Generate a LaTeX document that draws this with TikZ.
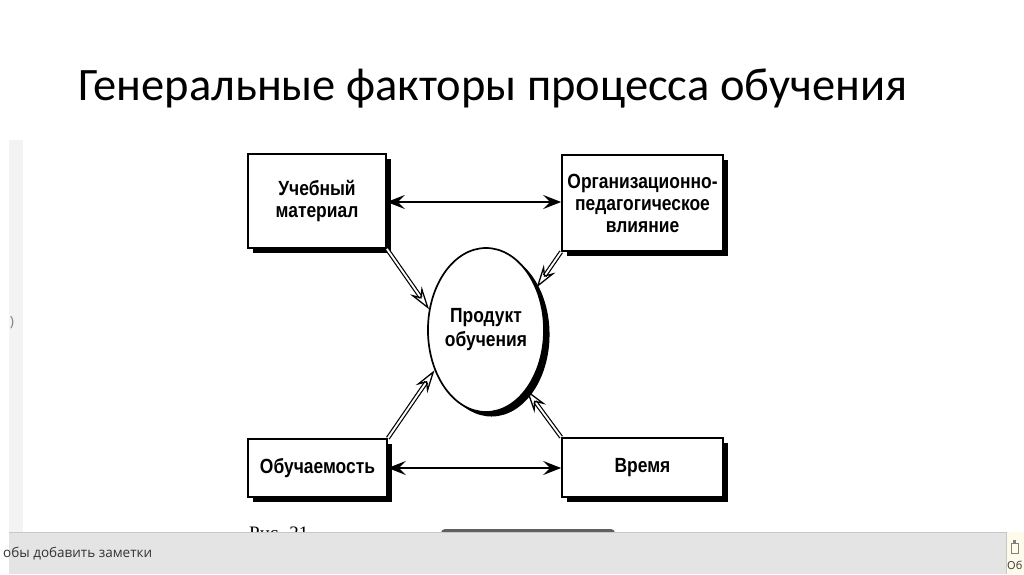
\documentclass[tikz,border=0pt]{standalone}
\usepackage{fontspec}
\setmainfont{Liberation Sans}
\newfontfamily\titlefont{Carlito}
\newfontfamily\boxfont[FakeStretch=0.85]{Liberation Sans}
\newfontfamily\uifont{Open Sans}
\newfontfamily\seriffont{Liberation Serif}
\usetikzlibrary{arrows.meta,shapes.geometric,shadows}
\definecolor{barbg}{HTML}{E4E4E4}
\definecolor{barline}{HTML}{C8C8C8}
\definecolor{stripbg}{HTML}{F3F3F3}
\definecolor{notebg}{HTML}{FFFBEA}
\tikzset{
  factor/.style={draw=black, line width=1.7pt, fill=white, inner sep=0pt,
    align=center, font=\boxfont\bfseries\fontsize{20.5}{22}\selectfont,
    general shadow={fill=black, shadow xshift=5pt, shadow yshift=-5pt}},
  product/.style={ellipse, draw=black, line width=1.7pt, fill=white, inner sep=0pt,
    minimum width=113pt, minimum height=164pt, align=center,
    font=\boxfont\bfseries\fontsize{20.5}{24}\selectfont,
    general shadow={fill=black, shadow xshift=5.5pt, shadow yshift=-4.5pt}},
  harr/.style={line width=2.4pt,
    {Stealth[length=18pt,width=14pt,inset=7pt]}-{Stealth[length=18pt,width=14pt,inset=7pt]}},
  darr/.style={double=white, double distance=1.9pt, line width=1.2pt,
    -{Stealth[open,length=23pt,width=14pt,inset=8pt,line width=1.3pt]}},
}
\begin{document}
\begin{tikzpicture}[x=1pt,y=-1pt]
\useasboundingbox (0,0) rectangle (1024,574);
\fill[white] (0,0) rectangle (1024,574);
% left strip
\fill[stripbg] (9,140) rectangle (23,532);
\node[font=\uifont\fontsize{14}{14}\selectfont, text=gray, inner sep=0pt] (chev) at (12,323) {)};
% title
\node[anchor=base west, inner sep=0pt, font=\titlefont\fontsize{46.5}{50}\selectfont] (title) at (78,100) {Генеральные факторы процесса обучения};
% boxes
\node[factor, minimum width=138pt, minimum height=94pt] (um) at (317,201) {Учебный\\материал};
\node[factor, minimum width=161pt, minimum height=96pt] (op) at (642.5,203) {Организационно-\\педагогическое\\влияние};
\node[factor, minimum width=139pt, minimum height=58pt] (ob) at (317.5,468) {Обучаемость};
\node[factor, minimum width=161pt, minimum height=59pt] (vr) at (642.5,467.5) {Время};
\node[product] (pr) at (486,330) {Продукт\\обучения};
% horizontal arrows
\draw[harr] (um.east |- 0,202) -- (op.west |- 0,202);
\draw[harr] (ob.east) -- (vr.west |- ob.east);
% diagonal arrows
\draw[darr] (um.south east) -- (pr.160);
\draw[darr] (op.south west) -- (pr.40);
\draw[darr] (ob.north east) -- (pr.218);
\draw[darr] (vr.north west) -- (pr.304);
% caption (partly hidden)
\node[anchor=base west, inner sep=0pt, font=\seriffont\fontsize{19}{19}\selectfont] (cap) at (249,539) {Рис. 21};
% pill
\fill[gray!75!black, rounded corners=4pt] (441,529) rectangle (615,540);
% bottom bar
\fill[barbg] (9,532) rectangle (1006,574);
\draw[barline, line width=1pt] (9,532) -- (1006,532);
\fill[notebg] (1006,532) rectangle (1024,574);
\draw[barline, line width=0.6pt] (1006,532) -- (1006,574);
\node[anchor=base west, inner sep=0pt, font=\uifont\fontsize{13.5}{13.5}\selectfont, text=black!80] (notes) at (3,557) {обы добавить заметки};
\draw[gray, line width=0.7pt] (1011,543) rectangle (1018,553);
\fill[gray] (1013,540) rectangle (1016,543);
\node[anchor=base west, inner sep=0pt, font=\uifont\fontsize{11}{11}\selectfont, text=black!80] (ob2) at (1007,569) {Об};
\end{tikzpicture}
\end{document}
